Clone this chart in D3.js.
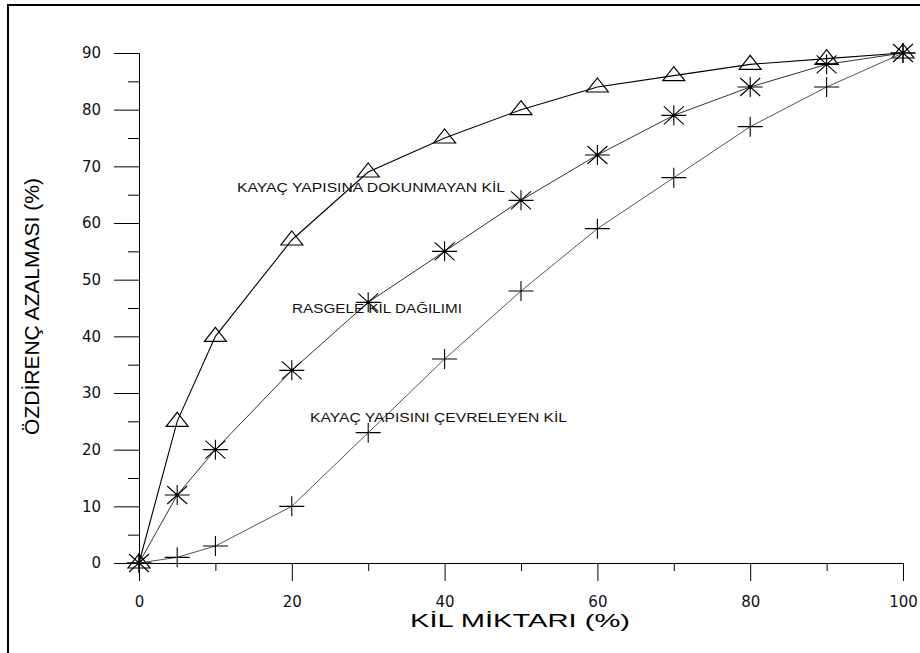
<!DOCTYPE html>
<html><head><meta charset="utf-8">
<script src="https://cdn.jsdelivr.net/npm/d3@7"></script>
<style>body{margin:0;background:#fff}</style>
</head><body>
<svg id="c" width="920" height="653"></svg>
<script>
const clay = [0,5,10,20,30,40,50,60,70,80,90,100];
const dispersed = [0,25,40,57,69,75,80,84,86,88,89,90];   // KAYAÇ YAPISINA DOKUNMAYAN KİL (triangles)
const randomDist = [0,12,20,34,46,55,64,72,79,84,88,90];  // RASGELE KİL DAĞILIMI (stars)
const coating = [0,1,3,10,23,36,48,59,68,77,84,90];       // KAYAÇ YAPISINI ÇEVRELEYEN KİL (plus)
const xTicks = [0,20,40,60,80,100];
const xMinor = [10,30,50,70,90];
const yTicks = [0,10,20,30,40,50,60,70,80,90];
const yMinor = [5,15,25,35,45,55,65,75,85];
const labels = ["KAYAÇ YAPISINA DOKUNMAYAN KİL","RASGELE KİL DAĞILIMI","KAYAÇ YAPISINI ÇEVRELEYEN KİL"];
const xTitle = "KİL MİKTARI  (%)";
const yTitle = "ÖZDİRENÇ AZALMASI (%)";

const svg = d3.select("#c");
const x = d3.scaleLinear().domain([0,100]).range([139,903]);
const y = d3.scaleLinear().domain([0,90]).range([563,53]);

// frame
svg.append("rect").attr("x",8).attr("y",5).attr("width",930).attr("height",670)
  .attr("fill","none").attr("stroke","#000").attr("stroke-width",2);

const font = "Arial, 'Liberation Sans', sans-serif";
const tickFont = "'DejaVu Sans', sans-serif";

// y axis
const gy = svg.append("g").attr("transform","translate(139,0)");
gy.call(d3.axisLeft(y).tickValues(yTicks).tickSize(25).tickSizeOuter(0).tickPadding(13));
gy.append("g").call(d3.axisLeft(y).tickValues(yMinor).tickSize(11).tickSizeOuter(0).tickFormat(""));
gy.selectAll("text").attr("font-family",tickFont).attr("font-size",15).attr("fill","#111");
gy.selectAll("line,path").attr("stroke","#000");

// x axis
const gx = svg.append("g").attr("transform","translate(0,563)");
gx.call(d3.axisBottom(x).tickValues(xTicks).tickSize(18).tickSizeOuter(0).tickPadding(15));
gx.append("g").call(d3.axisBottom(x).tickValues(xMinor).tickSize(8).tickSizeOuter(0).tickFormat(""));
gx.selectAll("text").attr("font-family",tickFont).attr("font-size",15).attr("fill","#111");
gx.selectAll("line,path").attr("stroke","#000");

// titles
svg.append("text").attr("x",410).attr("y",627).attr("font-family",font).attr("font-size",18)
  .attr("textLength",220).attr("lengthAdjust","spacingAndGlyphs").text(xTitle);
svg.append("text").attr("transform","translate(39,435) rotate(-90)").attr("font-family",font)
  .attr("font-size",20).attr("textLength",257).attr("lengthAdjust","spacingAndGlyphs").text(yTitle);

const line = d3.line().x(d=>x(d[0])).y(d=>y(d[1])).curve(d3.curveLinear);
const series = [
  {vals:dispersed, stroke:"#000", w:1.1, m:"tri"},
  {vals:randomDist, stroke:"#333", w:1, m:"star"},
  {vals:coating, stroke:"#555", w:1, m:"plus"}
];
series.forEach(s=>{
  const pts = clay.map((c,i)=>[c,s.vals[i]]);
  svg.append("path").datum(pts).attr("d",line).attr("fill","none")
    .attr("stroke",s.stroke).attr("stroke-width",s.w);
  const g = svg.append("g");
  pts.forEach(p=>{
    const cx=x(p[0]), cy=y(p[1]);
    if(s.m==="tri"){
      g.append("path").attr("d",`M${cx},${cy-9}L${cx+11},${cy+5}L${cx-11},${cy+5}Z`)
        .attr("fill","none").attr("stroke","#000").attr("stroke-width",1.2);
    } else if(s.m==="star"){
      const r=12.5, rv=10;
      g.append("path").attr("d",`M${cx-r},${cy}H${cx+r}M${cx},${cy-rv}V${cy+rv}M${cx-10},${cy-9}L${cx+10},${cy+9}M${cx-10},${cy+9}L${cx+10},${cy-9}`)
        .attr("stroke","#000").attr("stroke-width",1.1);
      g.append("circle").attr("cx",cx).attr("cy",cy).attr("r",1.8).attr("fill","#000");
    } else {
      g.append("path").attr("d",`M${cx-12.5},${cy}H${cx+12.5}M${cx},${cy-10}V${cy+10}`)
        .attr("stroke","#000").attr("stroke-width",1.1);
    }
  });
});

// labels
const lab = [[237,192,268],[292,313,170],[310,422,257]];
labels.forEach((t,i)=>{
  svg.append("text").attr("x",lab[i][0]).attr("y",lab[i][1]).attr("font-family",font)
    .attr("font-size",12.5).attr("fill","#111").attr("textLength",lab[i][2])
    .attr("lengthAdjust","spacingAndGlyphs").text(t);
});
</script>
</body></html>
